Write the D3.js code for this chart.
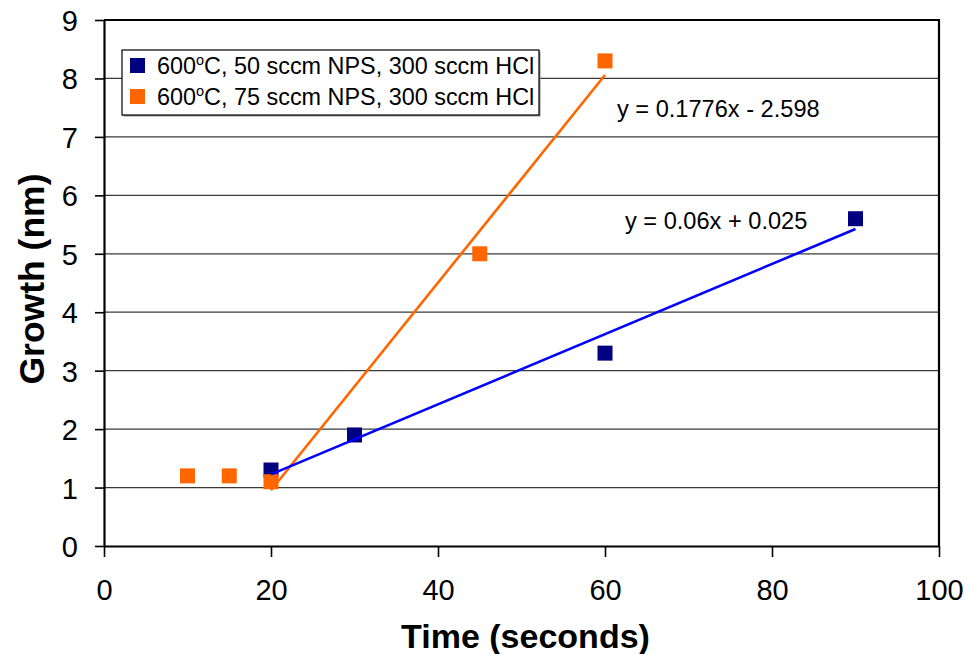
<!DOCTYPE html>
<html><head><meta charset="utf-8">
<script src="https://cdn.jsdelivr.net/npm/d3@7"></script>
<style>
html,body{margin:0;padding:0;background:#fff;}
svg{display:block;font-family:"Liberation Sans",Arial,sans-serif;}
</style></head>
<body>
<svg id="chart" width="969" height="654"></svg>
<script>
// ---- data ----
const series1Name = "C, 50 sccm NPS, 300 sccm HCl";
const series2Name = "C, 75 sccm NPS, 300 sccm HCl";
const series1X = [20, 30, 60, 90];
const series1Y = [1.3, 1.9, 3.3, 5.6];
const series2X = [10, 15, 20, 45, 60];
const series2Y = [1.2, 1.2, 1.1, 5.0, 8.3];
// trendlines (slope, intercept) and their x range
const trend1 = {slope: 0.06, intercept: 0.025, x0: 20, x1: 90, label: "y = 0.06x + 0.025"};
const trend2 = {slope: 0.1776, intercept: -2.598, x0: 20, x1: 60, label: "y = 0.1776x - 2.598"};
const xTicks = [0, 20, 40, 60, 80, 100];
const yTicks = [0, 1, 2, 3, 4, 5, 6, 7, 8, 9];
const xTitle = "Time (seconds)";
const yTitle = "Growth (nm)";

const col1 = "#000080", col2 = "#FF6600";
const trendCol1 = "#0000FF", trendCol2 = "#FF6600";

const svg = d3.select("#chart");
const L = 104, R = 939, T = 20, B = 546;
const x = d3.scaleLinear().domain([0, 100]).range([L, R]);
const y = d3.scaleLinear().domain([0, 9]).range([B, T]);

// gridlines
svg.append("g").selectAll("line").data(yTicks.filter(d => d > 0 && d < 9)).join("line")
  .attr("x1", L).attr("x2", R).attr("y1", d => y(d)).attr("y2", d => y(d))
  .attr("stroke", "#3a3a3a").attr("stroke-width", 1.2);

// border top/right
svg.append("path").attr("d", `M${L},${T}H${R}V${B}`).attr("fill", "none")
  .attr("stroke", "#000").attr("stroke-width", 2.2);

// axes
const xAxis = svg.append("g").attr("transform", `translate(0,${B})`)
  .call(d3.axisBottom(x).tickValues(xTicks).tickSize(11).tickPadding(22).tickSizeOuter(0));
const yAxis = svg.append("g").attr("transform", `translate(${L},0)`)
  .call(d3.axisLeft(y).tickValues(yTicks).tickSize(9).tickPadding(17).tickSizeOuter(0));
[xAxis, yAxis].forEach(a => {
  a.select(".domain").attr("stroke", "#000").attr("stroke-width", 2.2);
  a.selectAll(".tick line").attr("stroke", "#000").attr("stroke-width", 1.6);
  a.selectAll(".tick text").attr("fill", "#000").attr("font-size", 29)
    .attr("font-family", "'Liberation Sans', Arial, sans-serif");
});
xAxis.selectAll(".tick text").attr("dy", "0.71em");
yAxis.selectAll(".tick text").attr("dy", "0.36em");

// markers
const ms = 15;
function drawMarkers(xs, ys, c) {
  svg.append("g").selectAll("rect").data(xs.map((d, i) => [d, ys[i]])).join("rect")
    .attr("x", d => x(d[0]) - ms / 2).attr("y", d => y(d[1]) - ms / 2)
    .attr("width", ms).attr("height", ms).attr("fill", c);
}
drawMarkers(series1X, series1Y, col1);
drawMarkers(series2X, series2Y, col2);

// trendlines
function drawTrend(t, c) {
  svg.append("line")
    .attr("x1", x(t.x0)).attr("y1", y(t.slope * t.x0 + t.intercept))
    .attr("x2", x(t.x1)).attr("y2", y(t.slope * t.x1 + t.intercept))
    .attr("stroke", c).attr("stroke-width", 2.6);
}
drawTrend(trend2, trendCol2);
drawTrend(trend1, trendCol1);

// equation labels
svg.append("text").attr("x", 617).attr("y", 117).attr("font-size", 23.6).attr("fill", "#000").text(trend2.label);
svg.append("text").attr("x", 625).attr("y", 229).attr("font-size", 23.6).attr("fill", "#000").text(trend1.label);

// legend
const lg = svg.append("g");
lg.append("rect").attr("x", 123.5).attr("y", 51.5).attr("width", 417).attr("height", 65).attr("fill", "#909090");
lg.append("rect").attr("x", 122).attr("y", 50).attr("width", 417).attr("height", 65)
  .attr("fill", "#fff").attr("stroke", "#000").attr("stroke-width", 1.2);
[[series1Name, col1, 65.5], [series2Name, col2, 96.5]].forEach(([name, c, cy]) => {
  lg.append("rect").attr("x", 130).attr("y", cy - 7.5).attr("width", 15).attr("height", 15).attr("fill", c);
  const t = lg.append("text").attr("x", 157).attr("y", cy + 8.5).attr("font-size", 23.4).attr("fill", "#000");
  t.append("tspan").text("600");
  t.append("tspan").attr("font-size", 14.5).attr("dy", -9.5).text("o");
  t.append("tspan").attr("dy", 9.5).text(name);
});

// axis titles
svg.append("text").attr("x", (L + R) / 2 + 4).attr("y", 648).attr("text-anchor", "middle")
  .attr("font-size", 34).attr("font-weight", "bold").attr("fill", "#000").text(xTitle);
svg.append("text").attr("transform", "translate(44,279) rotate(-90)").attr("text-anchor", "middle")
  .attr("font-size", 35.5).attr("font-weight", "bold").attr("fill", "#000").text(yTitle);
</script>
</body></html>
